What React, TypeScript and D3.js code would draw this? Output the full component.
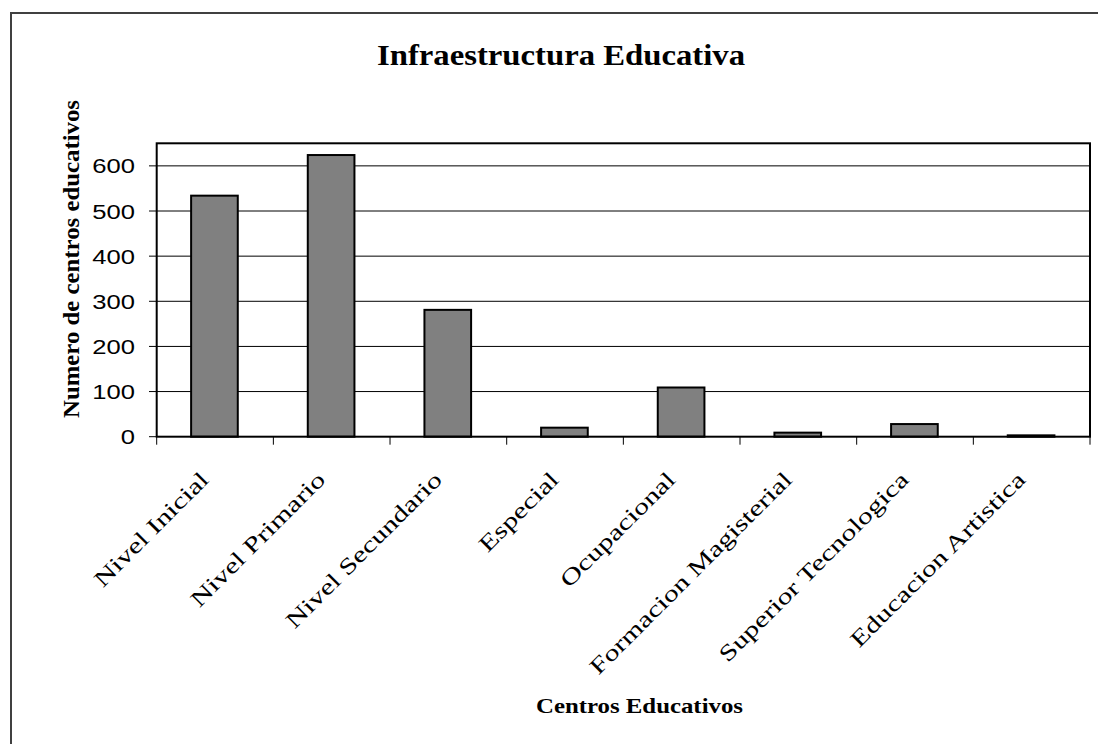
import React from "react";
import * as d3 from "d3";

const categories = [
  "Nivel Inicial",
  "Nivel Primario",
  "Nivel Secundario",
  "Especial",
  "Ocupacional",
  "Formacion Magisterial",
  "Superior Tecnologica",
  "Educacion Artistica",
];
const values = [534, 624, 281, 20, 109, 9, 28, 3];
const yTicks = [0, 100, 200, 300, 400, 500, 600];
const yMax = 650;
const title = "Infraestructura Educativa";
const xTitle = "Centros Educativos";
const yTitle = "Numero de centros educativos";

const W = 1098;
const H = 744;
const plot = { left: 156.7, right: 1090, top: 143.3, bottom: 436.7 };
const serif = "'Liberation Serif', 'Times New Roman', serif";
const sans = "'Liberation Sans', Arial, sans-serif";

export default function App() {
  const x = d3.scaleBand<string>().domain(categories).range([plot.left, plot.right]).padding(0);
  const y = d3.scaleLinear().domain([0, yMax]).range([plot.bottom, plot.top]);
  const bw = x.bandwidth();
  const boundaries = d3.range(categories.length + 1).map((i) => plot.left + i * bw);

  return (
    <svg
      width={W}
      height={H}
      style={{ position: "absolute", left: 0, top: 0, background: "#fff" }}
    >
      <rect x={0} y={0} width={W} height={H} fill="#fff" />
      <rect x={11} y={13} width={W + 20} height={H + 20} fill="none" stroke="#404040" strokeWidth={2} />

      <text
        x={377}
        y={64.5}
        textLength={368}
        lengthAdjust="spacingAndGlyphs"
        fontFamily={serif}
        fontWeight="bold"
        fontSize={30}
      >
        {title}
      </text>

      {yTicks.map((t) => (
        <g key={t}>
          {t > 0 && (
            <line x1={plot.left} x2={plot.right} y1={y(t)} y2={y(t)} stroke="#000" strokeWidth={1} />
          )}
          <line x1={149} x2={plot.left} y1={y(t)} y2={y(t)} stroke="#000" strokeWidth={1} />
          <text
            transform={`translate(135 ${y(t)}) scale(1.22 1)`}
            dy="0.36em"
            textAnchor="end"
            fontFamily={sans}
            fontSize={21}
          >
            {t}
          </text>
        </g>
      ))}

      {categories.map((c, i) => (
        <rect
          key={c}
          x={(x(c) as number) + bw * 0.295}
          y={y(values[i])}
          width={bw * 0.4}
          height={plot.bottom - y(values[i])}
          fill="#808080"
          stroke="#000"
          strokeWidth={2}
        />
      ))}

      <rect
        x={plot.left}
        y={plot.top}
        width={plot.right - plot.left}
        height={plot.bottom - plot.top}
        fill="none"
        stroke="#000"
        strokeWidth={2}
      />

      {boundaries.map((bx, i) => (
        <line key={i} x1={bx} x2={bx} y1={plot.bottom} y2={plot.bottom + 8} stroke="#000" strokeWidth={1} />
      ))}

      {categories.map((c) => {
        const cx = (x(c) as number) + bw / 2 - 5;
        const cy = 481;
        return (
          <text
            key={c}
            transform={`translate(${cx} ${cy}) rotate(-45) scale(1.34 1)`}
            textAnchor="end"
            fontFamily={serif}
            fontSize={22.5}
          >
            {c}
          </text>
        );
      })}

      <text
        x={536}
        y={713}
        textLength={207}
        lengthAdjust="spacingAndGlyphs"
        fontFamily={serif}
        fontWeight="bold"
        fontSize={22}
      >
        {xTitle}
      </text>

      <text
        transform="translate(79 418) rotate(-90)"
        textLength={318}
        lengthAdjust="spacingAndGlyphs"
        fontFamily={serif}
        fontWeight="bold"
        fontSize={23}
      >
        {yTitle}
      </text>
    </svg>
  );
}
